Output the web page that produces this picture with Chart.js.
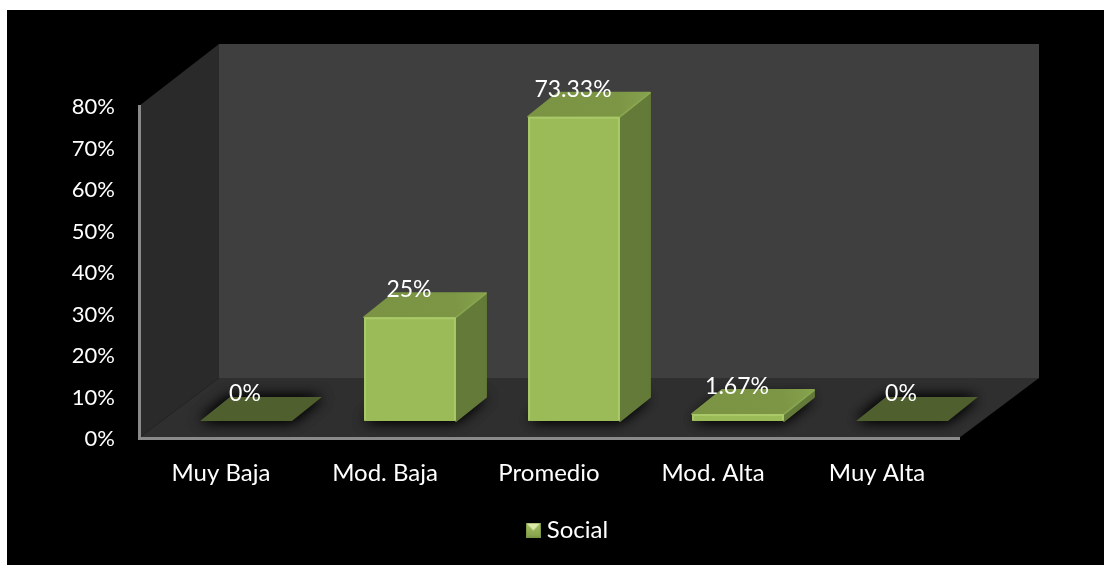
<!DOCTYPE html>
<html>
<head>
<meta charset="utf-8">
<title>Social</title>
<script src="https://cdn.jsdelivr.net/npm/chart.js@4"></script>
<style>
  html, body { margin: 0; padding: 0; background: #fff; overflow: hidden; }
  #modelChart { position: absolute; left: 7px; top: 10px; background: #000; }
</style>
</head>
<body>
<canvas id="modelChart" width="1097" height="555"></canvas>
<script>
var categories = ["Muy Baja", "Mod. Baja", "Promedio", "Mod. Alta", "Muy Alta"];
var values = [0, 25, 73.33, 1.67, 0];
var seriesName = "Social";
var yTicks = [0, 10, 20, 30, 40, 50, 60, 70, 80];

// fake 3d: room depth, and how far the bars sit from the front of the floor
var roomX = 80, roomY = 60, roomTopY = 62;
var shiftX = 25, shiftY = -17;
var barX = 30, barY = 24;

var font = "Lato";

function poly(c, pts, fill) {
  c.beginPath();
  c.moveTo(pts[0][0], pts[0][1]);
  for (let i = 1; i < pts.length; i++) c.lineTo(pts[i][0], pts[i][1]);
  c.closePath();
  if (fill) {
    c.fillStyle = fill;
    c.fill();
  }
}

// small legend square with the lighter notch on top
function legendMarker() {
  let m = document.createElement("canvas");
  m.width = 15;
  m.height = 15;
  let c = m.getContext("2d");
  let g = c.createLinearGradient(0, 0, 0, 15);
  g.addColorStop(0, "#a8c566");
  g.addColorStop(1, "#839f4a");
  c.fillStyle = g;
  c.fillRect(0, 0, 15, 15);
  poly(c, [[1, 1], [14, 1], [7.5, 8]], "#dcebaa");
  c.strokeStyle = "#7d9646";
  c.strokeRect(0.5, 0.5, 14, 14);
  return m;
}

var room = {
  id: "room",
  beforeDraw(chart) {
    let c = chart.ctx, a = chart.chartArea;
    let l = a.left, r = a.right, t = a.top, b = a.bottom;
    poly(c, [[l + roomX, t - roomTopY], [r + roomX, t - roomTopY], [r + roomX, b - roomY], [l + roomX, b - roomY]], "#3f3f3f");
    poly(c, [[l, t], [l + roomX, t - roomTopY], [l + roomX, b - roomY], [l, b]], "#2a2a2a");
    poly(c, [[l, b], [r, b], [r + roomX, b - roomY], [l + roomX, b - roomY]], "#2f2f2f");
  },
  afterLayout(chart) {
    // legend sits right of centre, just under the category labels
    let lg = chart.legend;
    lg.left += 87;
    lg.right += 87;
    lg.top -= 13;
  },
};

var bars3d = {
  id: "bars3d",
  beforeDatasetDraw(chart, args) {
    let c = chart.ctx;
    let bars = args.meta.data;
    c.save();
    c.translate(shiftX, shiftY);
    bars.forEach(function (bar, i) {
      let x0 = bar.x - bar.width / 2, x1 = bar.x + bar.width / 2;
      let base = bar.base, top = bar.y;
      let footprint = [[x0, base], [x1, base], [x1 + barX, base - barY], [x0 + barX, base - barY]];
      // soft shadow on the floor, two passes to get it dark enough
      c.save();
      c.shadowColor = "rgba(0,0,0,0.9)";
      c.shadowBlur = 14;
      poly(c, footprint, "#222");
      poly(c, footprint, "#222");
      c.restore();
      if (values[i] === 0) {
        poly(c, footprint, "#4f5f2e");
        return;
      }
      c.lineJoin = "round";
      c.lineWidth = 2;
      poly(c, [[x1, base], [x1 + barX, base - barY], [x1 + barX, top - barY], [x1, top]], "#647a39");
      c.strokeStyle = "#647a39";
      c.stroke();
      let g = c.createLinearGradient(x0, top, x1 + barX, top - barY);
      g.addColorStop(0, "#7a9444");
      g.addColorStop(0.75, "#7c9645");
      g.addColorStop(1, "#87a34e");
      poly(c, [[x0, top], [x1, top], [x1 + barX, top - barY], [x0 + barX, top - barY]], g);
      c.strokeStyle = g;
      c.stroke();
      // bevel along the back right edge of the cap
      c.strokeStyle = "#89a650";
      c.lineWidth = 1.5;
      c.beginPath();
      c.moveTo(x1, top);
      c.lineTo(x1 + barX, top - barY);
      c.stroke();
    });
  },
  afterDatasetDraw(chart, args) {
    let c = chart.ctx;
    args.meta.data.forEach(function (bar, i) {
      if (values[i] === 0) return;
      let x0 = bar.x - bar.width / 2, x1 = bar.x + bar.width / 2;
      c.strokeStyle = "#aac968";
      c.lineWidth = 2;
      c.lineJoin = "round";
      c.beginPath();
      c.moveTo(x0 + 1, bar.base - 1);
      c.lineTo(x0 + 1, bar.y + 1);
      c.lineTo(x1 - 1, bar.y + 1);
      c.lineTo(x1 - 1, bar.base - 1);
      c.stroke();
    });
    c.restore();
  },
  afterDatasetsDraw(chart) {
    let c = chart.ctx;
    let bars = chart.getDatasetMeta(0).data;
    c.save();
    c.fillStyle = "#fff";
    c.font = "23px " + font;
    c.textAlign = "center";
    c.textBaseline = "middle";
    bars.forEach(function (bar, i) {
      c.fillText(values[i] + "%", bar.x + shiftX - 1, bar.y + shiftY - 27.5);
    });
    c.restore();
  },
};

new Chart(document.getElementById("modelChart"), {
  type: "bar",
  data: {
    labels: categories,
    datasets: [
      {
        label: seriesName,
        data: values,
        backgroundColor: "#9bbb59",
        borderWidth: 0,
        barPercentage: 0.7,
        categoryPercentage: 0.8,
        clip: false,
      },
    ],
  },
  plugins: [room, bars3d],
  options: {
    responsive: false,
    animation: false,
    layout: { padding: { top: 96, right: 145, left: 0, bottom: 0 } },
    plugins: {
      title: { display: false },
      tooltip: { enabled: false },
      legend: {
        position: "bottom",
        labels: {
          color: "#fff",
          font: { family: font, size: 24 },
          usePointStyle: true,
          pointStyle: legendMarker(),
          pointStyleWidth: 3,
          padding: 14,
        },
      },
    },
    scales: {
      x: {
        grid: { display: false, drawTicks: false },
        border: { display: true, color: "#8a8a8a", width: 3 },
        ticks: { color: "#fff", font: { family: font, size: 24 }, padding: 21, maxRotation: 0 },
        afterFit(s) {
          s.height = 127 - s.chart.legend.height;
        },
      },
      y: {
        min: 0,
        max: 80,
        afterBuildTicks(s) {
          s.ticks = yTicks.map(function (v) { return { value: v }; });
        },
        grid: { display: false, drawTicks: false },
        border: { display: true, color: "#8a8a8a", width: 3 },
        ticks: {
          color: "#fff",
          font: { family: font, size: 22 },
          padding: 24,
          labelOffset: 1,
          callback: function (v) { return v + "%"; },
        },
        afterFit(s) {
          s.width = 132;
        },
      },
    },
  },
});
</script>
</body>
</html>
